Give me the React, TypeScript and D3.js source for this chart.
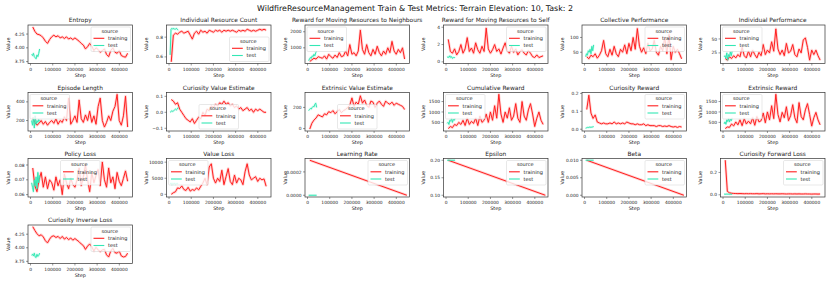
import React from "react";
import * as d3 from "d3";

// ---------- data ----------
const TRAIN_STEPS = d3.range(46).map((i) => 10000 + i * 9500);
const TEST_STEPS = d3.range(10).map((i) => 5000 + i * 4000);
const X_TICKS = [0, 100000, 200000, 300000, 400000];

const entropyTrain = [4.38,4.3,4.25,4.24,4.22,4.18,4.12,4.08,4.15,4.2,4.23,4.2,4.22,4.18,4.2,4.17,4.2,4.16,4.18,4.15,4.18,4.15,4.12,4.08,4.05,3.98,4.02,4.08,4.03,3.95,4.0,3.97,3.92,3.95,3.98,3.88,3.84,3.95,4.0,3.92,3.9,3.95,3.86,3.84,3.83,3.9];
const entropyTest = [3.88,3.86,3.9,3.84,3.82,3.8,3.87,3.84,3.9,3.98];

const resCountTrain = [0.55,0.82,0.84,0.83,0.85,0.86,0.84,0.85,0.86,0.82,0.78,0.84,0.86,0.83,0.87,0.85,0.86,0.84,0.87,0.86,0.85,0.87,0.86,0.87,0.85,0.87,0.86,0.87,0.86,0.87,0.86,0.85,0.87,0.86,0.87,0.86,0.88,0.87,0.86,0.87,0.86,0.87,0.88,0.87,0.88,0.87];
const resCountTest = [0.62,0.88,0.89,0.88,0.89,0.88,0.88,0.89,0.88,0.87];

const rewNeighTrain = [150,250,350,300,450,400,350,500,300,600,450,350,550,400,700,450,500,800,500,1200,600,700,500,800,2100,900,600,1200,700,500,900,600,1100,700,500,800,600,1000,700,1400,800,600,900,700,1000,300];
const rewNeighTest = [200,300,400,350,500,450,600,500,700,800];

const rewSelfTrain = [2.6,1.2,1.0,1.5,0.8,1.2,2.0,1.0,1.5,2.8,1.2,1.6,1.0,2.2,1.4,1.0,1.8,1.2,3.9,1.5,1.0,1.4,2.0,1.2,1.5,0.9,1.6,2.2,1.3,1.0,1.8,1.1,1.5,0.8,1.2,1.4,1.0,0.8,1.3,1.0,0.6,0.5,0.8,0.5,0.6,0.7];
const rewSelfTest = [0.5,0.6,0.5,0.7,0.5,0.6,0.4,0.5,0.5,0.5];

const collPerfTrain = [35,28,40,35,45,30,40,55,90,45,35,60,40,70,45,35,60,50,75,45,80,55,100,60,130,70,50,65,45,80,55,60,90,50,40,70,55,100,45,110,25,70,50,60,45,28];
const collPerfTest = [35,45,40,55,50,60,45,70,55,75];

const indPerfTrain = [15,12,18,15,20,16,22,18,35,20,16,28,18,30,22,16,26,20,40,22,30,25,45,28,68,32,22,30,20,42,25,28,40,22,18,32,25,48,52,35,12,30,22,30,20,12];
const indPerfTest = [18,20,15,25,12,22,18,27,20,28];

const epLenTrain = [230,180,150,170,200,160,190,150,180,200,170,220,160,200,180,240,200,440,160,200,250,180,420,220,180,260,200,300,180,250,160,350,440,200,130,180,250,200,300,350,480,200,150,250,460,130];
const epLenTest = [200,150,230,120,250,160,200,180,210,190];

const curValTrain = [0.08,0.07,0.05,0.06,0.02,0.0,-0.02,-0.04,-0.05,-0.06,-0.04,-0.07,-0.05,-0.03,-0.04,0.0,-0.02,0.02,0.01,0.04,0.03,0.05,0.04,0.06,0.05,0.07,0.05,0.06,0.04,0.05,0.03,0.04,0.02,0.03,0.01,0.02,0.03,0.01,0.02,0.0,0.02,0.01,0.02,0.01,0.0,0.0];
const curValTest = [0.0,0.005,0.01,0.005,0.01,0.015,0.02,0.015,0.02,0.03];

const extValTrain = [-5,50,80,100,130,120,110,140,130,160,150,170,140,160,180,150,170,180,200,220,290,210,250,230,310,240,270,220,200,260,250,200,240,260,230,210,260,240,230,250,220,240,230,220,210,180];
const extValTest = [170,180,190,185,200,210,205,230,240,200];

const cumRewTrain = [200,300,250,400,350,500,400,600,350,700,400,550,450,700,350,800,500,600,900,500,1000,600,1300,700,1850,900,500,1000,700,1200,600,800,1400,700,500,1500,800,600,1100,1400,900,300,700,1000,600,400];
const cumRewTest = [450,500,400,600,550,700,500,650,600,700];

const curRewTrain = [0.11,0.19,0.09,0.06,0.08,0.04,0.035,0.03,0.035,0.03,0.03,0.035,0.03,0.04,0.03,0.035,0.03,0.035,0.03,0.04,0.035,0.03,0.03,0.025,0.03,0.025,0.025,0.03,0.02,0.025,0.02,0.02,0.02,0.015,0.02,0.02,0.015,0.018,0.015,0.02,0.015,0.012,0.015,0.01,0.015,0.012];
const curRewTest = [0.005,0.008,0.01,0.009,0.012,0.01,0.012,0.011,0.013,0.015];

const extRewTrain = [200,280,260,420,330,520,380,620,340,680,420,560,430,720,360,780,520,580,950,480,1000,620,1300,680,1850,880,520,980,720,1250,580,820,1350,720,480,1450,780,620,1100,1400,880,320,720,980,620,380];
const extRewTest = [430,520,410,620,540,680,520,660,580,720];

const polLossTrain = [0.078,0.066,0.062,0.07,0.075,0.065,0.072,0.064,0.07,0.068,0.063,0.072,0.066,0.07,0.06,0.074,0.068,0.064,0.071,0.067,0.065,0.07,0.078,0.066,0.072,0.08,0.07,0.062,0.075,0.068,0.073,0.077,0.066,0.082,0.07,0.065,0.078,0.068,0.072,0.064,0.075,0.069,0.066,0.071,0.076,0.069];
const polLossTest = [0.068,0.065,0.062,0.07,0.066,0.072,0.064,0.075,0.068,0.073];

const valLossTrain = [0,500,800,2000,1800,2600,1500,1200,2200,1000,1500,1200,2000,1400,2500,3500,5000,3000,8500,9500,5000,3500,5000,4000,7500,3000,5500,8000,4000,3000,6000,3500,5000,4500,3000,7000,9500,6000,4500,5000,5500,4000,5000,4500,4800,2500];
const valLossTest = [3300,3500,3000,3400,3200,3500,3100,3300,3400,3200];

const lrTrain = [0.0003,0.0];
const lrTest = [0.0, 0.0];
const epsTrain = [0.2, 0.1];
const epsTest = [0.2, 0.2];
const betaTrain = [0.01, 0.0];
const betaTest = [0.01, 0.01];
const LINEAR_STEPS = [10000, 447500];
const LINEAR_TEST_STEPS = [5000, 41000];

const fwdLossTrain = [0.31,0.03,0.018,0.014,0.012,0.011,0.01,0.011,0.01,0.009,0.01,0.009,0.01,0.009,0.009,0.01,0.008,0.009,0.01,0.008,0.009,0.008,0.009,0.008,0.009,0.008,0.008,0.009,0.008,0.007,0.008,0.008,0.007,0.008,0.007,0.008,0.007,0.007,0.008,0.007,0.007,0.006,0.007,0.007,0.006,0.007];
const fwdLossTest = [0.006,0.005,0.005,0.006,0.005,0.005,0.004,0.005,0.005,0.005];

const invLossTrain = [4.39,4.32,4.26,4.22,4.24,4.2,4.13,4.09,4.16,4.21,4.22,4.19,4.21,4.17,4.21,4.16,4.19,4.15,4.18,4.14,4.17,4.14,4.11,4.07,4.04,3.97,4.03,4.07,4.02,3.94,4.01,3.96,3.93,3.96,3.97,3.87,3.83,3.94,3.99,3.91,3.9,3.94,3.85,3.83,3.84,3.9];
const invLossTest = [3.86,3.88,3.85,3.9,3.83,3.82,3.88,3.84,3.86,3.9];

// ---------- panel config ----------
type Panel = {
  title: string;
  train: number[];
  test: number[];
  trainX?: number[];
  testX?: number[];
  yLim: [number, number];
  yTicks: number[];
  fmt: string;
  legend: string;
};

const panels: Panel[] = [
  { title: "Entropy", train: entropyTrain, test: entropyTest, yLim: [3.715, 4.415], yTicks: [3.75, 4.0, 4.25], fmt: ".2f", legend: "ur" },
  { title: "Individual Resource Count", train: resCountTrain, test: resCountTest, yLim: [0.533, 0.923], yTicks: [0.6, 0.8], fmt: ".1f", legend: "lr" },
  { title: "Reward for Moving Resources to Neighbours", train: rewNeighTrain, test: rewNeighTest, yLim: [25, 2420], yTicks: [1000, 2000], fmt: "d", legend: "ul" },
  { title: "Reward for Moving Resources to Self", train: rewSelfTrain, test: rewSelfTest, yLim: [-0.19, 4.26], yTicks: [0, 2, 4], fmt: "d", legend: "ur" },
  { title: "Collective Performance", train: collPerfTrain, test: collPerfTest, yLim: [12, 142], yTicks: [50, 100], fmt: "d", legend: "ur" },
  { title: "Individual Performance", train: indPerfTrain, test: indPerfTest, yLim: [6, 75], yTicks: [25, 50], fmt: "d", legend: "ul" },
  { title: "Episode Length", train: epLenTrain, test: epLenTest, yLim: [88, 500], yTicks: [200, 400], fmt: "d", legend: "ul" },
  { title: "Curiosity Value Estimate", train: curValTrain, test: curValTest, yLim: [-0.117, 0.124], yTicks: [-0.1, 0.0, 0.1], fmt: ".1f", legend: "lc" },
  { title: "Extrinsic Value Estimate", train: extValTrain, test: extValTest, yLim: [-23, 341], yTicks: [0, 200], fmt: "d", legend: "lc" },
  { title: "Cumulative Reward", train: cumRewTrain, test: cumRewTest, yLim: [85, 1935], yTicks: [500, 1000, 1500], fmt: "d", legend: "ul" },
  { title: "Curiosity Reward", train: curRewTrain, test: curRewTest, yLim: [-0.01, 0.205], yTicks: [0.0, 0.1, 0.2], fmt: ".1f", legend: "ur" },
  { title: "Extrinsic Reward", train: extRewTrain, test: extRewTest, yLim: [85, 1935], yTicks: [500, 1000, 1500], fmt: "d", legend: "ul" },
  { title: "Policy Loss", train: polLossTrain, test: polLossTest, yLim: [0.0584, 0.0844], yTicks: [0.06, 0.07, 0.08], fmt: ".2f", legend: "uc" },
  { title: "Value Loss", train: valLossTrain, test: valLossTest, yLim: [-830, 11140], yTicks: [0, 5000, 10000], fmt: "d", legend: "ul" },
  { title: "Learning Rate", train: lrTrain, test: lrTest, trainX: LINEAR_STEPS, testX: LINEAR_TEST_STEPS, yLim: [-0.000015, 0.000315], yTicks: [0, 0.0002], fmt: ".4f", legend: "ur" },
  { title: "Epsilon", train: epsTrain, test: epsTest, trainX: LINEAR_STEPS, testX: LINEAR_TEST_STEPS, yLim: [0.095, 0.205], yTicks: [0.1, 0.15, 0.2], fmt: ".2f", legend: "ur" },
  { title: "Beta", train: betaTrain, test: betaTest, trainX: LINEAR_STEPS, testX: LINEAR_TEST_STEPS, yLim: [-0.0005, 0.0105], yTicks: [0, 0.005, 0.01], fmt: ".3f", legend: "ur" },
  { title: "Curiosity Forward Loss", train: fwdLossTrain, test: fwdLossTest, yLim: [-0.02, 0.325], yTicks: [0.0, 0.2], fmt: ".1f", legend: "ur" },
  { title: "Curiosity Inverse Loss", train: invLossTrain, test: invLossTest, yLim: [3.71, 4.42], yTicks: [3.75, 4.0, 4.25], fmt: ".2f", legend: "ur" },
];

const TITLE = "WildfireResourceManagement Train & Test Metrics: Terrain Elevation: 10, Task: 2";

// ---------- style ----------
const W = 831;
const H = 283;
const FONT = "DejaVu Sans, sans-serif";
const RED = "#ff1f1f";
const TEAL = "#33e8b4";
const COL_LEFT = 28;
const COL_STEP = 138.5;
const ROW_TOPS = [25, 92.5, 158.5, 225];
const AX_W = 104.5;
const AX_H = 38.5;
const X_DOMAIN: [number, number] = [-11400, 459400];

function Legend({ x0, y0, x1, y1, pos }: { x0: number; y0: number; x1: number; y1: number; pos: string }) {
  const lw = 39.5;
  const lh = 24.5;
  const pad = 2;
  let lx = x1 - lw - pad;
  let ly = y0 + pad;
  if (pos[1] === "l") lx = x0 + pad;
  if (pos[1] === "c") lx = (x0 + x1) / 2 - lw / 2;
  if (pos[0] === "l") ly = y1 - lh - pad;
  const entries = [
    { label: "training", color: RED },
    { label: "test", color: TEAL },
  ];
  return (
    <g>
      <rect x={lx} y={ly} width={lw} height={lh} rx={1.2} fill="white" fillOpacity={0.8} stroke="#d0d0d0" strokeWidth={0.5} />
      <text x={lx + lw / 2 - 1} y={ly + 5.8} fontSize={5} textAnchor="middle" fill="#222" fontFamily={FONT}>source</text>
      {entries.map((e, k) => (
        <g key={e.label}>
          <line x1={lx + 2.5} x2={lx + 13.3} y1={ly + 11.3 + k * 7.2} y2={ly + 11.3 + k * 7.2} stroke={e.color} strokeWidth={1.1} />
          <text x={lx + 17} y={ly + 13.1 + k * 7.2} fontSize={5} fill="#222" fontFamily={FONT}>{e.label}</text>
        </g>
      ))}
    </g>
  );
}

function PanelView({ p, i }: { p: Panel; i: number }) {
  const col = i % 6;
  const row = Math.floor(i / 6);
  const left = COL_LEFT + col * COL_STEP;
  const top = ROW_TOPS[row];
  const right = left + AX_W;
  const bottom = top + AX_H;
  const x = d3.scaleLinear().domain(X_DOMAIN).range([left, right]);
  const y = d3.scaleLinear().domain(p.yLim).range([bottom, top]);
  const trX = p.trainX ?? TRAIN_STEPS;
  const teX = p.testX ?? TEST_STEPS;
  const line = d3.line<[number, number]>().x((d) => x(d[0])).y((d) => y(d[1]));
  const trainPts = p.train.map((v, k) => [trX[k], v] as [number, number]);
  const testPts = p.test.map((v, k) => [teX[k], v] as [number, number]);
  const fmt = d3.format(p.fmt);
  const clipId = `clip${i}`;
  const trainD = line(trainPts) ?? "";
  const testD = line(testPts) ?? "";
  return (
    <g>
      <defs>
        <clipPath id={clipId}>
          <rect x={left} y={top} width={AX_W} height={AX_H} />
        </clipPath>
      </defs>
      <g clipPath={`url(#${clipId})`}>
        <path d={trainD} fill="none" stroke={RED} strokeOpacity={0.2} strokeWidth={2.6} strokeLinejoin="round" />
        <path d={testD} fill="none" stroke={TEAL} strokeOpacity={0.2} strokeWidth={2.2} strokeLinejoin="round" />
        <path d={trainD} fill="none" stroke={RED} strokeWidth={1} />
        <path d={testD} fill="none" stroke={TEAL} strokeWidth={1} />
      </g>
      <rect x={left} y={top} width={AX_W} height={AX_H} fill="none" stroke="#333" strokeWidth={0.7} />
      {X_TICKS.map((t) => (
        <g key={t}>
          <line x1={x(t)} x2={x(t)} y1={bottom} y2={bottom + 2} stroke="#333" strokeWidth={0.5} />
          <text x={x(t)} y={bottom + 7.3} fontSize={4.4} textAnchor="middle" fill="#222" fontFamily={FONT}>{t}</text>
        </g>
      ))}
      {p.yTicks.map((t) => (
        <g key={t}>
          <line x1={left - 2} x2={left} y1={y(t)} y2={y(t)} stroke="#333" strokeWidth={0.5} />
          <text x={left - 3.5} y={y(t) + 1.6} fontSize={4.4} textAnchor="end" fill="#222" fontFamily={FONT}>{fmt(t)}</text>
        </g>
      ))}
      <text x={(left + right) / 2} y={bottom + 13.3} fontSize={4.9} textAnchor="middle" fill="#222" fontFamily={FONT}>Step</text>
      <text transform={`translate(${left - 18.5},${(top + bottom) / 2}) rotate(-90)`} fontSize={4.9} textAnchor="middle" fill="#222" fontFamily={FONT}>Value</text>
      <text x={(left + right) / 2} y={top - 2.6} fontSize={5.9} textAnchor="middle" fill="#222" fontFamily={FONT}>{p.title}</text>
      <Legend x0={left} y0={top} x1={right} y1={bottom} pos={p.legend} />
    </g>
  );
}

export default function App() {
  return (
    <svg width={W} height={H} viewBox={`0 0 ${W} ${H}`} style={{ position: "absolute", left: 0, top: 0, background: "white" }}>
      <rect x={0} y={0} width={W} height={H} fill="white" />
      <text x={415} y={11} fontSize={7.9} textAnchor="middle" fill="#111" fontFamily={FONT}>{TITLE}</text>
      {panels.map((p, i) => (
        <PanelView key={p.title} p={p} i={i} />
      ))}
    </svg>
  );
}
